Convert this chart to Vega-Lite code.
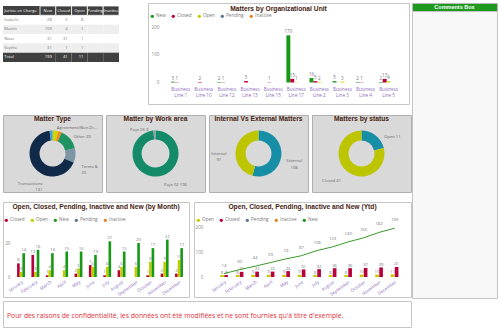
{
 "$schema": "https://vega.github.io/schema/vega-lite/v6.json",
 "padding": {"left": 2, "top": 2, "right": 0, "bottom": 0},
 "background": "white",
 "config": {
  "font": "Open Sans",
  "view": {"stroke": null},
  "title": {"font": "Liberation Sans", "fontWeight": "bold", "fontSize": 6.7, "color": "#45210f", "frame": "group", "anchor": "middle"},
  "axis": {"labelFont": "Open Sans", "domain": false, "ticks": false, "tickSize": 0, "labelFontSize": 4.6, "labelColor": "#888888", "grid": false, "minExtent": 0, "maxExtent": 0},
  "legend": {"orient": "none", "direction": "horizontal", "symbolType": "circle", "symbolSize": 11, "symbolStrokeWidth": 0, "labelFontSize": 4.6, "labelColor": "#777777", "labelFont": "Open Sans", "columnPadding": 5, "labelOffset": 1.5, "padding": 0},
  "text": {"font": "Open Sans", "fontSize": 4.5, "color": "#777777"}
 },
 "datasets": {
  "names": [{"row": "Juriste en Charge"}, {"row": "Isabelle"}, {"row": "Martin"}, {"row": "Nizar"}, {"row": "Sophie"}, {"row": "Total"}],
  "cells": [
   {"row": "Juriste en Charge", "col": "New", "v": "New"}, {"row": "Juriste en Charge", "col": "Closed", "v": "Closed"}, {"row": "Juriste en Charge", "col": "Open", "v": "Open"}, {"row": "Juriste en Charge", "col": "Pending", "v": "Pending"}, {"row": "Juriste en Charge", "col": "Inactive", "v": "Inactive"},
   {"row": "Isabelle", "col": "New", "v": "28"}, {"row": "Isabelle", "col": "Closed", "v": "5"}, {"row": "Isabelle", "col": "Open", "v": "8"}, {"row": "Isabelle", "col": "Pending", "v": ""}, {"row": "Isabelle", "col": "Inactive", "v": ""},
   {"row": "Martin", "col": "New", "v": "109"}, {"row": "Martin", "col": "Closed", "v": "4"}, {"row": "Martin", "col": "Open", "v": "1"}, {"row": "Martin", "col": "Pending", "v": ""}, {"row": "Martin", "col": "Inactive", "v": ""},
   {"row": "Nizar", "col": "New", "v": "31"}, {"row": "Nizar", "col": "Closed", "v": "31"}, {"row": "Nizar", "col": "Open", "v": "1"}, {"row": "Nizar", "col": "Pending", "v": ""}, {"row": "Nizar", "col": "Inactive", "v": ""},
   {"row": "Sophie", "col": "New", "v": "31"}, {"row": "Sophie", "col": "Closed", "v": "1"}, {"row": "Sophie", "col": "Open", "v": "1"}, {"row": "Sophie", "col": "Pending", "v": ""}, {"row": "Sophie", "col": "Inactive", "v": ""},
   {"row": "Total", "col": "New", "v": "199"}, {"row": "Total", "col": "Closed", "v": "41"}, {"row": "Total", "col": "Open", "v": "11"}, {"row": "Total", "col": "Pending", "v": ""}, {"row": "Total", "col": "Inactive", "v": ""}
  ],
  "org": [
   {"unit": "Business Line 1", "series": "New", "value": 3}, {"unit": "Business Line 1", "series": "Closed", "value": 1},
   {"unit": "Business Line 10", "series": "Closed", "value": 2},
   {"unit": "Business Line 12", "series": "New", "value": 2}, {"unit": "Business Line 12", "series": "Closed", "value": 1},
   {"unit": "Business Line 13", "series": "Closed", "value": 5},
   {"unit": "Business Line 15", "series": "Closed", "value": 1},
   {"unit": "Business Line 17", "series": "New", "value": 170}, {"unit": "Business Line 17", "series": "Closed", "value": 13}, {"unit": "Business Line 17", "series": "Open", "value": 1},
   {"unit": "Business Line 2", "series": "New", "value": 16}, {"unit": "Business Line 2", "series": "Closed", "value": 5}, {"unit": "Business Line 2", "series": "Open", "value": 2},
   {"unit": "Business Line 3", "series": "New", "value": 5}, {"unit": "Business Line 3", "series": "Open", "value": 3},
   {"unit": "Business Line 4", "series": "New", "value": 2}, {"unit": "Business Line 4", "series": "Closed", "value": 1},
   {"unit": "Business Line 5", "series": "New", "value": 2}, {"unit": "Business Line 5", "series": "Closed", "value": 13}, {"unit": "Business Line 5", "series": "Open", "value": 4}
  ],
  "matterType": [
   {"i": 1, "cat": "Agreement/Non-Disclosure", "value": 8, "labelR": "Agreement/Non-Di...", "labelR2": "", "labelL": ""},
   {"i": 2, "cat": "Litigation", "value": 5, "labelR": "", "labelR2": "", "labelL": ""},
   {"i": 3, "cat": "Other", "value": 29, "labelR": "Other 29", "labelR2": "", "labelL": ""},
   {"i": 4, "cat": "Terms & Conditions", "value": 20, "labelR": "", "labelR2": "Terms &\n20", "labelL": ""},
   {"i": 5, "cat": "Transactions", "value": 131, "labelR": "", "labelR2": "", "labelL": "Transactions\n131"},
   {"i": 6, "cat": "Advisory", "value": 4, "labelR": "", "labelR2": "", "labelL": ""}
  ],
  "workArea": [
   {"i": 1, "cat": "Pays 02", "value": 196, "labelR": "Pays 02 196", "labelL": ""},
   {"i": 2, "cat": "Pays 05", "value": 3, "labelR": "", "labelL": "Pays 05 3"}
  ],
  "intext": [
   {"i": 1, "cat": "External", "value": 108, "labelR": "External\n108", "labelL": ""},
   {"i": 2, "cat": "Internal", "value": 91, "labelR": "", "labelL": "Internal\n91"}
  ],
  "status": [
   {"i": 1, "cat": "Open", "value": 11, "labelR": "Open 11", "labelL": ""},
   {"i": 2, "cat": "Closed", "value": 41, "labelR": "", "labelL": "Closed 41"}
  ],
  "monthly": [
   {"m": "January", "s": "Closed", "v": 8}, {"m": "January", "s": "Open", "v": 3}, {"m": "January", "s": "New", "v": 14},
   {"m": "February", "s": "Closed", "v": 13}, {"m": "February", "s": "Open", "v": 3}, {"m": "February", "s": "New", "v": 16},
   {"m": "March", "s": "Closed", "v": 1}, {"m": "March", "s": "Open", "v": 4}, {"m": "March", "s": "New", "v": 14},
   {"m": "April", "s": "Open", "v": 4}, {"m": "April", "s": "New", "v": 15},
   {"m": "May", "s": "Closed", "v": 2}, {"m": "May", "s": "Open", "v": 5}, {"m": "May", "s": "New", "v": 15},
   {"m": "June", "s": "Closed", "v": 7}, {"m": "June", "s": "Open", "v": 6}, {"m": "June", "s": "New", "v": 13},
   {"m": "July", "s": "Closed", "v": 1}, {"m": "July", "s": "Open", "v": 6}, {"m": "July", "s": "New", "v": 21},
   {"m": "August", "s": "Closed", "v": 4}, {"m": "August", "s": "Open", "v": 6}, {"m": "August", "s": "New", "v": 15},
   {"m": "September", "s": "Open", "v": 6}, {"m": "September", "s": "New", "v": 20},
   {"m": "October", "s": "Closed", "v": 1}, {"m": "October", "s": "Open", "v": 9}, {"m": "October", "s": "New", "v": 17},
   {"m": "November", "s": "Closed", "v": 2}, {"m": "November", "s": "Open", "v": 9}, {"m": "November", "s": "New", "v": 22},
   {"m": "December", "s": "Closed", "v": 2}, {"m": "December", "s": "Open", "v": 10}, {"m": "December", "s": "New", "v": 17}
  ],
  "ytd": [
   {"m": "January", "s": "Open", "v": 8}, {"m": "January", "s": "Closed", "v": 8}, {"m": "January", "s": "New", "v": 14},
   {"m": "February", "s": "Open", "v": 8}, {"m": "February", "s": "Closed", "v": 21}, {"m": "February", "s": "New", "v": 30},
   {"m": "March", "s": "Open", "v": 9}, {"m": "March", "s": "Closed", "v": 22}, {"m": "March", "s": "New", "v": 44},
   {"m": "April", "s": "Open", "v": 9}, {"m": "April", "s": "Closed", "v": 22}, {"m": "April", "s": "New", "v": 59},
   {"m": "May", "s": "Open", "v": 9}, {"m": "May", "s": "Closed", "v": 24}, {"m": "May", "s": "New", "v": 74},
   {"m": "June", "s": "Open", "v": 9}, {"m": "June", "s": "Closed", "v": 31}, {"m": "June", "s": "New", "v": 87},
   {"m": "July", "s": "Open", "v": 8}, {"m": "July", "s": "Closed", "v": 32}, {"m": "July", "s": "New", "v": 108},
   {"m": "August", "s": "Open", "v": 8}, {"m": "August", "s": "Closed", "v": 36}, {"m": "August", "s": "New", "v": 123},
   {"m": "September", "s": "Open", "v": 8}, {"m": "September", "s": "Closed", "v": 36}, {"m": "September", "s": "New", "v": 143},
   {"m": "October", "s": "Open", "v": 10}, {"m": "October", "s": "Closed", "v": 37}, {"m": "October", "s": "New", "v": 160},
   {"m": "November", "s": "Open", "v": 10}, {"m": "November", "s": "Closed", "v": 39}, {"m": "November", "s": "New", "v": 182},
   {"m": "December", "s": "Open", "v": 11}, {"m": "December", "s": "Closed", "v": 41}, {"m": "December", "s": "New", "v": 199}
  ],
  "blank": [{"t": ""}],
  "commentsTitle": [{"t": "Comments Box"}]
 },
 "resolve": {"scale": {"color": "independent", "fill": "independent", "theta": "independent", "xOffset": "independent", "x": "independent", "y": "independent"}, "legend": {"color": "independent", "fill": "independent"}},
 "spacing": -1,
 "hconcat": [
  {
   "spacing": 8,
   "resolve": {"scale": {"color": "independent", "fill": "independent", "theta": "independent", "xOffset": "independent", "x": "independent", "y": "independent"}, "legend": {"color": "independent", "fill": "independent"}},
   "vconcat": [
    {
     "spacing": 9,
     "resolve": {"scale": {"color": "independent", "fill": "independent", "theta": "independent", "xOffset": "independent", "x": "independent", "y": "independent"}, "legend": {"color": "independent", "fill": "independent"}},
     "vconcat": [
      {
       "spacing": 27,
       "resolve": {"scale": {"color": "independent", "fill": "independent", "theta": "independent", "xOffset": "independent", "x": "independent", "y": "independent"}, "legend": {"color": "independent", "fill": "independent"}},
       "hconcat": [
        {
         "spacing": 0,
         "bounds": "flush",
         "resolve": {"scale": {"color": "independent", "fill": "independent", "theta": "independent", "xOffset": "independent", "x": "independent", "y": "independent"}, "legend": {"color": "independent", "fill": "independent"}},
         "hconcat": [
          {
           "width": 37, "height": 59,
           "data": {"name": "names"},
           "encoding": {
            "y": {"field": "row", "type": "nominal", "scale": {"domain": ["Juriste en Charge", "Isabelle", "Martin", "Nizar", "Sophie", "Total"], "paddingInner": 0, "paddingOuter": 0.16, "align": 1}, "axis": null},
            "x": {"datum": "name", "type": "nominal", "scale": {"domain": ["name"], "paddingInner": 0, "paddingOuter": 0}, "axis": null}
           },
           "layer": [
            {"mark": {"type": "rect"}, "encoding": {"fill": {"field": "row", "type": "nominal", "scale": {"domain": ["Juriste en Charge", "Isabelle", "Martin", "Nizar", "Sophie", "Total"], "range": ["#404040", "#ffffff", "#eeeeee", "#ffffff", "#eeeeee", "#404040"]}, "legend": null}}},
            {"mark": {"type": "text", "align": "left", "dx": 1.2, "fontSize": 4.1}, "encoding": {"x": {"datum": "name", "type": "nominal", "bandPosition": 0}, "text": {"field": "row"}, "color": {"field": "row", "type": "nominal", "scale": {"domain": ["Juriste en Charge", "Isabelle", "Martin", "Nizar", "Sophie", "Total"], "range": ["#ffffff", "#777777", "#777777", "#777777", "#777777", "#ffffff"]}, "legend": null}}}
           ]
          },
          {
           "width": 79, "height": 59,
           "data": {"name": "cells"},
           "encoding": {
            "y": {"field": "row", "type": "nominal", "scale": {"domain": ["Juriste en Charge", "Isabelle", "Martin", "Nizar", "Sophie", "Total"], "paddingInner": 0, "paddingOuter": 0.16, "align": 1}, "axis": null},
            "x": {"field": "col", "type": "nominal", "scale": {"domain": ["New", "Closed", "Open", "Pending", "Inactive"], "paddingInner": 0, "paddingOuter": 0}, "axis": null}
           },
           "layer": [
            {"mark": {"type": "rect"}, "encoding": {"fill": {"field": "row", "type": "nominal", "scale": {"domain": ["Juriste en Charge", "Isabelle", "Martin", "Nizar", "Sophie", "Total"], "range": ["#404040", "#ffffff", "#eeeeee", "#ffffff", "#eeeeee", "#404040"]}, "legend": null}}},
            {"transform": [{"filter": "datum.row == 'Juriste en Charge'"}], "mark": {"type": "rect", "fill": "#404040", "stroke": "#ffffff", "strokeWidth": 0.8}, "encoding": {}},
            {"transform": [{"filter": "datum.row == 'Juriste en Charge'"}], "mark": {"type": "text", "align": "center", "fontSize": 4.1, "color": "#ffffff"}, "encoding": {"text": {"field": "v"}}},
            {"transform": [{"filter": "datum.row != 'Juriste en Charge'"}], "mark": {"type": "text", "align": "right", "dx": -4, "fontSize": 4.1}, "encoding": {"x": {"field": "col", "type": "nominal", "bandPosition": 1}, "text": {"field": "v"}, "color": {"field": "row", "type": "nominal", "scale": {"domain": ["Isabelle", "Martin", "Nizar", "Sophie", "Total"], "range": ["#777777", "#777777", "#777777", "#777777", "#ffffff"]}, "legend": null}}}
           ]
          }
         ]
        },
        {
         "width": 261, "height": 101,
         "view": {"fill": "#ffffff", "stroke": "#c6c6c6", "strokeWidth": 1},
         "title": {"text": "Matters by Organizational Unit", "offset": -9.5},
         "data": {"name": "org"},
         "encoding": {
          "x": {"field": "unit", "type": "nominal", "scale": {"domain": ["Business Line 1", "Business Line 10", "Business Line 12", "Business Line 13", "Business Line 15", "Business Line 17", "Business Line 2", "Business Line 3", "Business Line 4", "Business Line 5"], "paddingInner": 0.15, "paddingOuter": 0.725, "align": 0.684},
                "axis": {"orient": "bottom", "offset": -21.5, "title": null, "labelAngle": 0, "labelExpr": "['Business', replace(datum.label, 'Business ', '')]", "labelColor": "#8d6cbd", "labelFontSize": 4.6, "labelPadding": 3.5, "labelBaseline": "top", "labelLineHeight": 6, "labelOverlap": false}},
          "xOffset": {"field": "series", "type": "nominal", "scale": {"domain": ["New", "Closed", "Open", "Pending", "Inactive"]}},
          "y": {"field": "value", "type": "quantitative", "stack": null, "scale": {"domain": [-77.5, 286.5], "nice": false, "zero": false},
                "axis": {"orient": "left", "offset": -12, "values": [0, 100, 200], "title": null, "labelPadding": 1}}
         },
         "layer": [
          {"mark": {"type": "bar"}, "encoding": {"color": {"field": "series", "type": "nominal", "scale": {"domain": ["New", "Closed", "Open", "Pending", "Inactive"], "range": ["#189a18", "#b8003a", "#c3cc00", "#5e7391", "#e5821e"]}, "legend": {"title": null, "legendX": 2, "legendY": 11}}}},
          {"mark": {"type": "text", "dy": -3}, "encoding": {"text": {"field": "value", "type": "quantitative"}}}
         ]
        }
       ]
      },
      {
       "spacing": 4,
       "bounds": "flush",
       "resolve": {"scale": {"color": "independent", "fill": "independent", "theta": "independent", "xOffset": "independent", "x": "independent", "y": "independent"}, "legend": {"color": "independent", "fill": "independent"}},
       "hconcat": [
        {
         "width": 99, "height": 77,
         "view": {"fill": "#d9d9d9", "stroke": "#b0b0b0"},
         "title": {"text": "Matter Type", "offset": -8},
         "data": {"name": "matterType"},
         "encoding": {"theta": {"field": "value", "type": "quantitative", "stack": true}, "order": {"field": "i", "type": "quantitative"}},
         "layer": [
          {"mark": {"type": "arc", "innerRadius": 13, "outerRadius": 23}, "encoding": {"color": {"field": "cat", "type": "nominal", "scale": {"domain": ["Agreement/Non-Disclosure", "Litigation", "Other", "Terms & Conditions", "Transactions", "Advisory"], "range": ["#cfd300", "#f08a1c", "#1f9463", "#7e95a5", "#112a4a", "#3fa2dd"]}, "legend": null}}},
          {"mark": {"type": "text", "radius": 26, "align": "left", "dx": 1, "fontSize": 4.2, "lineBreak": "\n", "color": "#666666"}, "encoding": {"text": {"field": "labelR"}}},
          {"mark": {"type": "text", "radius": 29, "align": "left", "dy": 11, "fontSize": 4.2, "lineBreak": "\n", "color": "#666666"}, "encoding": {"text": {"field": "labelR2"}}},
          {"mark": {"type": "text", "radius": 25, "align": "right", "dx": 10, "dy": 15, "fontSize": 4.2, "lineBreak": "\n", "color": "#666666"}, "encoding": {"text": {"field": "labelL"}}}
         ]
        },
        {
         "width": 99, "height": 77,
         "view": {"fill": "#d9d9d9", "stroke": "#b0b0b0"},
         "title": {"text": "Matter by Work area", "offset": -8},
         "data": {"name": "workArea"},
         "encoding": {"theta": {"field": "value", "type": "quantitative", "stack": true}, "order": {"field": "i", "type": "quantitative"}},
         "layer": [
          {"mark": {"type": "arc", "innerRadius": 14, "outerRadius": 23}, "encoding": {"color": {"field": "cat", "type": "nominal", "scale": {"domain": ["Pays 02", "Pays 05"], "range": ["#138a68", "#8c9ea8"]}, "legend": null}}},
          {"mark": {"type": "text", "radius": 30, "align": "left", "dx": 7, "dy": 2, "fontSize": 4.2, "lineBreak": "\n", "color": "#666666"}, "encoding": {"text": {"field": "labelR"}}},
          {"mark": {"type": "text", "radius": 24, "align": "right", "dx": -6, "fontSize": 4.2, "lineBreak": "\n", "color": "#666666"}, "encoding": {"text": {"field": "labelL"}}}
         ]
        },
        {
         "width": 99, "height": 77,
         "view": {"fill": "#d9d9d9", "stroke": "#b0b0b0"},
         "title": {"text": "Internal Vs External Matters", "offset": -8},
         "data": {"name": "intext"},
         "encoding": {"theta": {"field": "value", "type": "quantitative", "stack": true}, "order": {"field": "i", "type": "quantitative"}},
         "layer": [
          {"mark": {"type": "arc", "innerRadius": 13, "outerRadius": 23}, "encoding": {"color": {"field": "cat", "type": "nominal", "scale": {"domain": ["External", "Internal"], "range": ["#168fa6", "#bdc500"]}, "legend": null}}},
          {"mark": {"type": "text", "radius": 36, "align": "center", "dy": 3, "fontSize": 4.2, "lineBreak": "\n", "color": "#666666"}, "encoding": {"text": {"field": "labelR"}}},
          {"mark": {"type": "text", "radius": 36, "align": "center", "dx": -4, "dy": 5, "fontSize": 4.2, "lineBreak": "\n", "color": "#666666"}, "encoding": {"text": {"field": "labelL"}}}
         ]
        },
        {
         "width": 99, "height": 77,
         "view": {"fill": "#d9d9d9", "stroke": "#b0b0b0"},
         "title": {"text": "Matters by status", "offset": -8},
         "data": {"name": "status"},
         "encoding": {"theta": {"field": "value", "type": "quantitative", "stack": true}, "order": {"field": "i", "type": "quantitative"}},
         "layer": [
          {"mark": {"type": "arc", "innerRadius": 13, "outerRadius": 23}, "encoding": {"color": {"field": "cat", "type": "nominal", "scale": {"domain": ["Open", "Closed"], "range": ["#168fa6", "#bdc500"]}, "legend": null}}},
          {"mark": {"type": "text", "radius": 30, "align": "left", "dx": 4, "dy": 7, "fontSize": 4.2, "lineBreak": "\n", "color": "#666666"}, "encoding": {"text": {"field": "labelR"}}},
          {"mark": {"type": "text", "radius": 30, "align": "right", "dx": -2, "dy": 4, "fontSize": 4.2, "lineBreak": "\n", "color": "#666666"}, "encoding": {"text": {"field": "labelL"}}}
         ]
        }
       ]
      }
     ]
    },
    {
     "spacing": 2,
     "resolve": {"scale": {"color": "independent", "fill": "independent", "theta": "independent", "xOffset": "independent", "x": "independent", "y": "independent"}, "legend": {"color": "independent", "fill": "independent"}},
     "vconcat": [
      {
       "spacing": 5,
       "bounds": "flush",
       "resolve": {"scale": {"color": "independent", "fill": "independent", "theta": "independent", "xOffset": "independent", "x": "independent", "y": "independent"}, "legend": {"color": "independent", "fill": "independent"}},
       "hconcat": [
        {
         "width": 186, "height": 95,
         "view": {"fill": "#ffffff", "stroke": "#c6c6c6"},
         "title": {"text": "Open, Closed, Pending, Inactive and New (by Month)", "offset": -8.5},
         "data": {"name": "monthly"},
         "encoding": {
          "x": {"field": "m", "type": "nominal", "scale": {"domain": ["January", "February", "March", "April", "May", "June", "July", "August", "September", "October", "November", "December"], "paddingInner": 0.45, "paddingOuter": 0.7, "align": 0.7},
                "axis": {"orient": "bottom", "offset": -20, "title": null, "labelAngle": -35, "labelAlign": "right", "labelBaseline": "top", "labelPadding": 2, "labelColor": "#8d6cbd", "labelFontSize": 4.5, "labelOverlap": false}},
          "xOffset": {"field": "s", "type": "nominal", "scale": {"domain": ["Closed", "Open", "New"]}},
          "y": {"field": "v", "type": "quantitative", "stack": null, "scale": {"domain": [-11.76, 44.12], "nice": false, "zero": false},
                "axis": {"orient": "left", "offset": -8, "values": [0, 20], "title": null, "labelPadding": 1}}
         },
         "layer": [
          {"mark": {"type": "bar"}, "encoding": {"color": {"field": "s", "type": "nominal", "scale": {"domain": ["Closed", "Open", "New", "Pending", "Inactive"], "range": ["#b8003a", "#c3cc00", "#189a18", "#5e7391", "#e5821e"]}, "legend": {"title": null, "legendX": 1, "legendY": 16}}}},
          {"mark": {"type": "text", "dy": -3, "fontSize": 4.3}, "encoding": {"text": {"field": "v", "type": "quantitative"}}}
         ]
        },
        {
         "width": 217, "height": 95,
         "view": {"fill": "#ffffff", "stroke": "#c6c6c6"},
         "title": {"text": "Open, Closed, Pending, Inactive and New (Ytd)", "offset": -8.5},
         "data": {"name": "ytd"},
         "encoding": {
          "x": {"field": "m", "type": "nominal", "scale": {"domain": ["January", "February", "March", "April", "May", "June", "July", "August", "September", "October", "November", "December"], "paddingInner": 0, "paddingOuter": 1, "align": 0.72},
                "axis": {"orient": "bottom", "offset": -20, "title": null, "labelAngle": -35, "labelAlign": "right", "labelBaseline": "top", "labelPadding": 2, "labelColor": "#8d6cbd", "labelFontSize": 4.5, "labelOverlap": false}},
          "y": {"field": "v", "type": "quantitative", "stack": null, "scale": {"domain": [-81.6, 306.1], "nice": false, "zero": false},
                "axis": {"orient": "left", "offset": -10, "values": [0, 100, 200], "title": null, "labelPadding": 1}}
         },
         "layer": [
          {"transform": [{"filter": "datum.s != 'New'"}], "mark": {"type": "bar"}, "encoding": {"xOffset": {"field": "s", "type": "nominal", "scale": {"domain": ["Open", "Closed"], "paddingInner": 0.1, "paddingOuter": 0.95}}, "color": {"field": "s", "type": "nominal", "scale": {"domain": ["Open", "Closed", "Pending", "Inactive", "New"], "range": ["#c3cc00", "#b8003a", "#5e7391", "#e5821e", "#189a18"]}, "legend": {"title": null, "legendX": 2, "legendY": 16}}}},
          {"transform": [{"filter": "datum.s != 'New'"}], "mark": {"type": "text", "dy": -2.5, "fontSize": 4.3}, "encoding": {"xOffset": {"field": "s", "type": "nominal", "scale": {"domain": ["Open", "Closed"], "paddingInner": 0.1, "paddingOuter": 0.95}}, "text": {"field": "v", "type": "quantitative"}}},
          {"transform": [{"filter": "datum.s == 'New'"}], "mark": {"type": "line", "color": "#3a9a2a", "strokeWidth": 1}, "encoding": {}},
          {"transform": [{"filter": "datum.s == 'New'"}], "mark": {"type": "text", "dy": -8, "fontSize": 4.3}, "encoding": {"text": {"field": "v", "type": "quantitative"}}}
         ]
        }
       ]
      },
      {
       "width": 408, "height": 26,
       "view": {"fill": "#ffffff", "stroke": "#c6c6c6"},
       "title": {"text": "Pour des raisons de confidentialité, les données ont été modifiées et ne sont fournies qu'à titre d'exemple.", "anchor": "start", "offset": -18.5, "dx": 4, "font": "Open Sans", "fontWeight": "normal", "fontSize": 6.8, "color": "#e0303a"},
       "data": {"name": "blank"},
       "mark": {"type": "text"},
       "encoding": {"text": {"field": "t"}}
      }
     ]
    }
   ]
  },
  {
   "spacing": 0,
   "bounds": "flush",
   "resolve": {"scale": {"color": "independent", "fill": "independent", "theta": "independent", "xOffset": "independent", "x": "independent", "y": "independent"}, "legend": {"color": "independent", "fill": "independent"}},
   "vconcat": [
    {
     "width": 85, "height": 8,
     "view": {"fill": "#1e9a1e", "stroke": "#b8b8b8"},
     "data": {"name": "commentsTitle"},
     "mark": {"type": "text", "color": "#ffffff", "fontWeight": "bold", "fontSize": 5.5, "font": "Liberation Sans"},
     "encoding": {"text": {"field": "t"}}
    },
    {
     "width": 85, "height": 287,
     "view": {"fill": "#f8f8f8", "stroke": "#c4c4c4"},
     "data": {"name": "blank"},
     "mark": {"type": "text"},
     "encoding": {"text": {"field": "t"}}
    }
   ]
  }
 ]
}
